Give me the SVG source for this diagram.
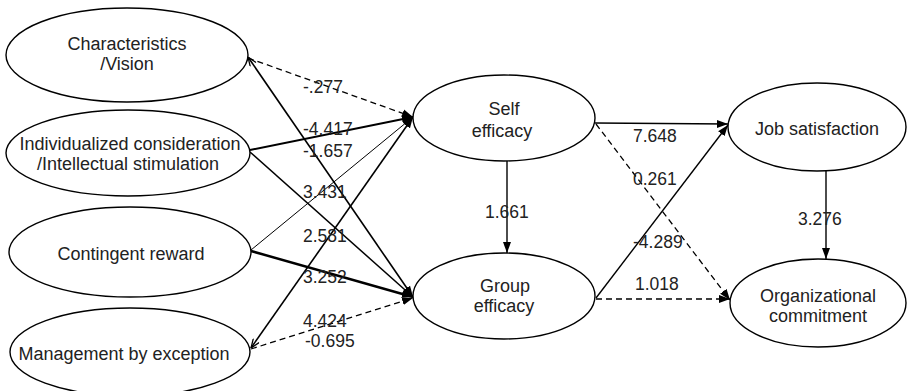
<svg xmlns="http://www.w3.org/2000/svg" width="909" height="391" viewBox="0 0 909 391">
<style>
.node ellipse{fill:#fff;stroke:#000;stroke-width:1.4}
text{font-family:"Liberation Sans",Arial,sans-serif;font-size:18px;fill:#222}
.nt{text-anchor:middle}
.lbl{font-size:17.5px}
.c{fill:none;stroke:#000}
.dash{stroke-dasharray:6 4;stroke-width:1.3}
</style>
<defs>
<marker id="ah" markerUnits="userSpaceOnUse" markerWidth="12" markerHeight="10" refX="11" refY="5" orient="auto">
<path d="M0,1 L11,5 L0,9 Z" fill="#000"/>
</marker>
<marker id="as" markerUnits="userSpaceOnUse" markerWidth="10" markerHeight="8" refX="0" refY="4" orient="auto">
<path d="M9,0.5 L0,4 L9,7.5" fill="none" stroke="#000" stroke-width="1.3"/>
</marker>
</defs>
<rect width="909" height="391" fill="#fff"/>
<g id="connectors">
<line class="c dash" x1="248" y1="58" x2="413" y2="117" marker-end="url(#ah)"/>
<line class="c" stroke-width="1.6" x1="248" y1="57" x2="413" y2="297" marker-start="url(#as)" marker-end="url(#ah)"/>
<line class="c" stroke-width="2" x1="250" y1="150" x2="413" y2="117" marker-end="url(#ah)"/>
<line class="c" stroke-width="1.5" x1="250" y1="152" x2="413" y2="297" marker-end="url(#ah)"/>
<line class="c" stroke-width="1" x1="251" y1="250" x2="413" y2="117" marker-end="url(#ah)"/>
<line class="c" stroke-width="2.5" x1="251" y1="251" x2="413" y2="297" marker-end="url(#ah)"/>
<line class="c" stroke-width="1.6" x1="251" y1="348" x2="413" y2="117" marker-start="url(#as)" marker-end="url(#ah)"/>
<line class="c dash" x1="251" y1="349" x2="413" y2="298" marker-end="url(#ah)"/>
<line class="c" stroke-width="1.4" x1="507" y1="161" x2="507" y2="253" marker-end="url(#ah)"/>
<line class="c" stroke-width="1.6" x1="595" y1="123" x2="728" y2="124" marker-end="url(#ah)"/>
<line class="c dash" x1="596" y1="124" x2="730" y2="300" marker-end="url(#ah)"/>
<line class="c" stroke-width="1.4" x1="596" y1="298" x2="728" y2="125" marker-end="url(#ah)"/>
<line class="c dash" x1="596" y1="299" x2="730" y2="299" marker-end="url(#ah)"/>
<line class="c" stroke-width="1.4" x1="826" y1="170" x2="826" y2="259" marker-end="url(#ah)"/>
</g>
<g id="labels">
<text class="lbl" x="303" y="93">-.277</text>
<text class="lbl" x="303" y="135">-4.417</text>
<text class="lbl" x="303" y="157">-1.657</text>
<text class="lbl" x="303" y="198">3.431</text>
<text class="lbl" x="303" y="242">2.581</text>
<text class="lbl" x="303" y="283">3.252</text>
<text class="lbl" x="303" y="327">4.424</text>
<text class="lbl" x="305" y="347">-0.695</text>
<text class="lbl" x="485" y="218">1.661</text>
<text class="lbl" x="633" y="142">7.648</text>
<text class="lbl" x="633" y="185">0.261</text>
<text class="lbl" x="633" y="248">-4.289</text>
<text class="lbl" x="635" y="290">1.018</text>
<text class="lbl" x="798" y="225">3.276</text>
</g>
<g id="node-characteristics" class="node">
<ellipse cx="127" cy="55" rx="121" ry="47"/>
<text class="nt" x="127" y="50">Characteristics</text>
<text class="nt" x="127" y="70">/Vision</text>
</g>
<g id="node-individualized" class="node">
<ellipse cx="128" cy="153" rx="122" ry="43"/>
<text class="nt" x="130" y="150">Individualized consideration</text>
<text class="nt" x="128" y="170">/Intellectual stimulation</text>
</g>
<g id="node-contingent" class="node">
<ellipse cx="130" cy="252" rx="121" ry="45"/>
<text class="nt" x="131" y="260">Contingent reward</text>
</g>
<g id="node-management" class="node">
<ellipse cx="130" cy="352" rx="120" ry="44"/>
<text class="nt" x="124" y="360">Management by exception</text>
</g>
<g id="node-self" class="node">
<ellipse cx="504" cy="118" rx="91" ry="43"/>
<text class="nt" x="504" y="115">Self</text>
<text class="nt" x="502" y="137">efficacy</text>
</g>
<g id="node-group" class="node">
<ellipse cx="504" cy="296" rx="91" ry="43"/>
<text class="nt" x="505" y="292">Group</text>
<text class="nt" x="504" y="312">efficacy</text>
</g>
<g id="node-job" class="node">
<ellipse cx="817" cy="127" rx="89" ry="44"/>
<text class="nt" x="817" y="135">Job satisfaction</text>
</g>
<g id="node-org" class="node">
<ellipse cx="818" cy="303" rx="88" ry="44"/>
<text class="nt" x="818" y="302">Organizational</text>
<text class="nt" x="818" y="322">commitment</text>
</g>
</svg>
